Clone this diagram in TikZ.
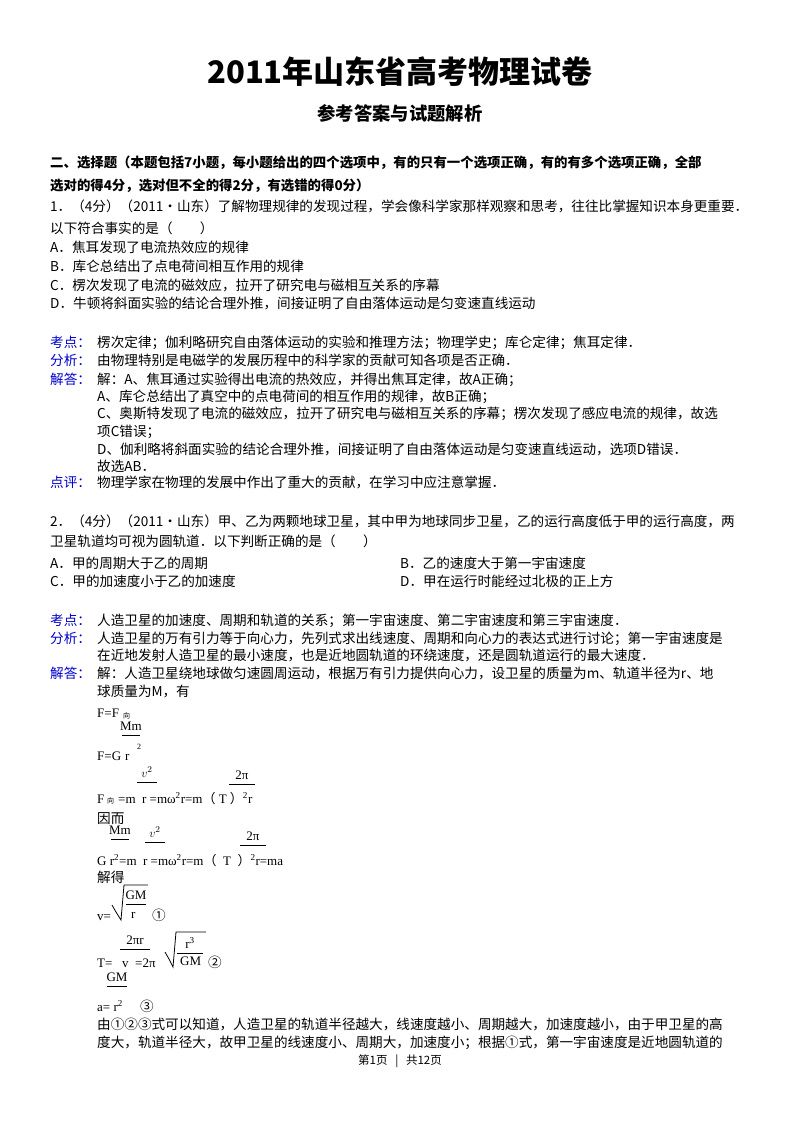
\documentclass[tikz,border=0pt]{standalone}
\usepackage{fontspec}
\setmainfont{Noto Sans CJK SC}
\newfontfamily\ser{Liberation Serif}
\newfontfamily\cj{Noto Sans CJK SC}
\newcommand{\Tx}[3]{\node[txt] at (#1,#2) {#3};}
\newcommand{\Lb}[3]{\node[lab] at (#1,#2) {#3};}
\newcommand{\Fm}[3]{\node[fm] at (#1,#2) {#3};}
\newcommand{\Fr}[4]{\node[fm,anchor=base] at (#1,#2) {#4};\draw[line width=0.8pt] (#1-#3,#2+5) -- (#1+#3,#2+5);}
\newcommand{\lp}{{\cj （}}
\newcommand{\rp}{{\cj ）}}
\begin{document}
\begin{tikzpicture}[x=1pt,y=-1pt,
  txt/.style={anchor=base west,inner sep=0pt,font=\fontsize{13.6}{14}\selectfont},
  lab/.style={txt,text=blue!80!black},
  fm/.style={anchor=base west,inner sep=0pt,font=\ser\fontsize{13}{14}\selectfont},
  sm/.style={anchor=base west,inner sep=0pt,font=\fontsize{7}{8}\selectfont}]
\useasboundingbox (0,0) rectangle (800,1132);
\fill[white] (0,0) rectangle (800,1132);
\node[anchor=base,font=\bfseries\fontsize{31}{33}\selectfont] (title) at (400,84) {2011年山东省高考物理试卷};
\node[anchor=base,font=\bfseries\fontsize{18.3}{20}\selectfont] (sub) at (400,120) {参考答案与试题解析};
\node[txt,font=\bfseries\fontsize{13.4}{14}\selectfont] at (50,167) {二、选择题（本题包括7小题，每小题给出的四个选项中，有的只有一个选项正确，有的有多个选项正确，全部};
\node[txt,font=\bfseries\fontsize{13.4}{14}\selectfont] at (50,190) {选对的得4分，选对但不全的得2分，有选错的得0分）};
\Tx{50}{211}{1．（4分）（2011•山东）了解物理规律的发现过程，学会像科学家那样观察和思考，往往比掌握知识本身更重要．}
\Tx{50}{233}{以下符合事实的是（　　）}
\Tx{50}{252}{A．焦耳发现了电流热效应的规律}
\Tx{50}{271}{B．库仑总结出了点电荷间相互作用的规律}
\Tx{50}{290}{C．楞次发现了电流的磁效应，拉开了研究电与磁相互关系的序幕}
\Tx{50}{308}{D．牛顿将斜面实验的结论合理外推，间接证明了自由落体运动是匀变速直线运动}
\Lb{50}{347}{考点：}\Tx{97}{347}{楞次定律；伽利略研究自由落体运动的实验和推理方法；物理学史；库仑定律；焦耳定律．}
\Lb{50}{365}{分析：}\Tx{97}{365}{由物理特别是电磁学的发展历程中的科学家的贡献可知各项是否正确．}
\Lb{50}{384}{解答：}\Tx{97}{384}{解：A、焦耳通过实验得出电流的热效应，并得出焦耳定律，故A正确；}
\Tx{97}{401}{A、库仑总结出了真空中的点电荷间的相互作用的规律，故B正确；}
\Tx{97}{418}{C、奥斯特发现了电流的磁效应，拉开了研究电与磁相互关系的序幕；楞次发现了感应电流的规律，故选}
\Tx{97}{436}{项C错误；}
\Tx{97}{454}{D、伽利略将斜面实验的结论合理外推，间接证明了自由落体运动是匀变速直线运动，选项D错误．}
\Tx{97}{471}{故选AB．}
\Lb{50}{487}{点评：}\Tx{97}{487}{物理学家在物理的发展中作出了重大的贡献，在学习中应注意掌握．}
\Tx{50}{526}{2．（4分）（2011•山东）甲、乙为两颗地球卫星，其中甲为地球同步卫星，乙的运行高度低于甲的运行高度，两}
\Tx{50}{546}{卫星轨道均可视为圆轨道．以下判断正确的是（　　）}
\Tx{50}{568}{A．甲的周期大于乙的周期}\Tx{400}{568}{B．乙的速度大于第一宇宙速度}
\Tx{50}{586}{C．甲的加速度小于乙的加速度}\Tx{400}{586}{D．甲在运行时能经过北极的正上方}
\Lb{50}{625}{考点：}\Tx{97}{625}{人造卫星的加速度、周期和轨道的关系；第一宇宙速度、第二宇宙速度和第三宇宙速度．}
\Lb{50}{643}{分析：}\Tx{97}{643}{人造卫星的万有引力等于向心力，先列式求出线速度、周期和向心力的表达式进行讨论；第一宇宙速度是}
\Tx{97}{660}{在近地发射人造卫星的最小速度，也是近地圆轨道的环绕速度，还是圆轨道运行的最大速度．}
\Lb{50}{678}{解答：}\Tx{97}{678}{解：人造卫星绕地球做匀速圆周运动，根据万有引力提供向心力，设卫星的质量为m、轨道半径为r、地}
\Tx{97}{696}{球质量为M，有}
% formulas
\Fm{97}{717}{F=F}\node[sm] at (123,718) {向};
\Fr{131}{730}{9}{Mm}
\Fm{97}{760}{F=G}\Fm{125}{760}{r}\Fm{137}{749}{\footnotesize 2}
\Fr{147}{777}{10}{$v^{2}$}\Fr{242}{779}{13}{2π}
\Fm{97}{803}{F}\node[sm] at (107,803) {向};\Fm{118}{803}{=m\ \ r\ =mω\textsuperscript{2}r=m\lp\ T\ \rp\textsuperscript{2}r}
\Tx{97}{823}{因而}
\Fr{120}{834}{9}{Mm}\Fr{155}{837}{10}{$v^{2}$}\Fr{253}{840}{13}{2π}
\Fm{97}{865}{G r\textsuperscript{2}=m\ \ r\ =mω\textsuperscript{2}r=m\lp\ \ T\ \ \rp\textsuperscript{2}r=ma}
\Tx{97}{882}{解得}
\Fm{97}{920}{v=}
\draw[line width=0.8pt] (112,905) -- (116,912) -- (121,920) -- (124,885) -- (148,885);
\Fr{136}{899}{10}{GM}\Fm{131}{918}{r}\node[txt] at (152,920) {①};
\Fr{135}{944}{15}{2πr}
\Fm{97}{967}{T=\ \ \ v\ \ =2π}
\draw[line width=0.8pt] (165,952) -- (169,959) -- (173,967) -- (176,932) -- (206,932);
\Fr{190}{948}{13}{r\textsuperscript{3}}\Fm{180}{965}{GM}\node[txt] at (208,967) {②};
\Fr{117}{981}{10}{GM}
\Fm{97}{1011}{a=\ r\textsuperscript{2}}\node[txt] at (140,1011) {③};
\Tx{97}{1029}{由①②③式可以知道，人造卫星的轨道半径越大，线速度越小、周期越大，加速度越小，由于甲卫星的高}
\Tx{97}{1047}{度大，轨道半径大，故甲卫星的线速度小、周期大，加速度小；根据①式，第一宇宙速度是近地圆轨道的}
\node[anchor=base,font=\fontsize{11.5}{12}\selectfont] (foot) at (400,1064) {第1页\ \ \ |\ \ \ 共12页};
\end{tikzpicture}
\end{document}
